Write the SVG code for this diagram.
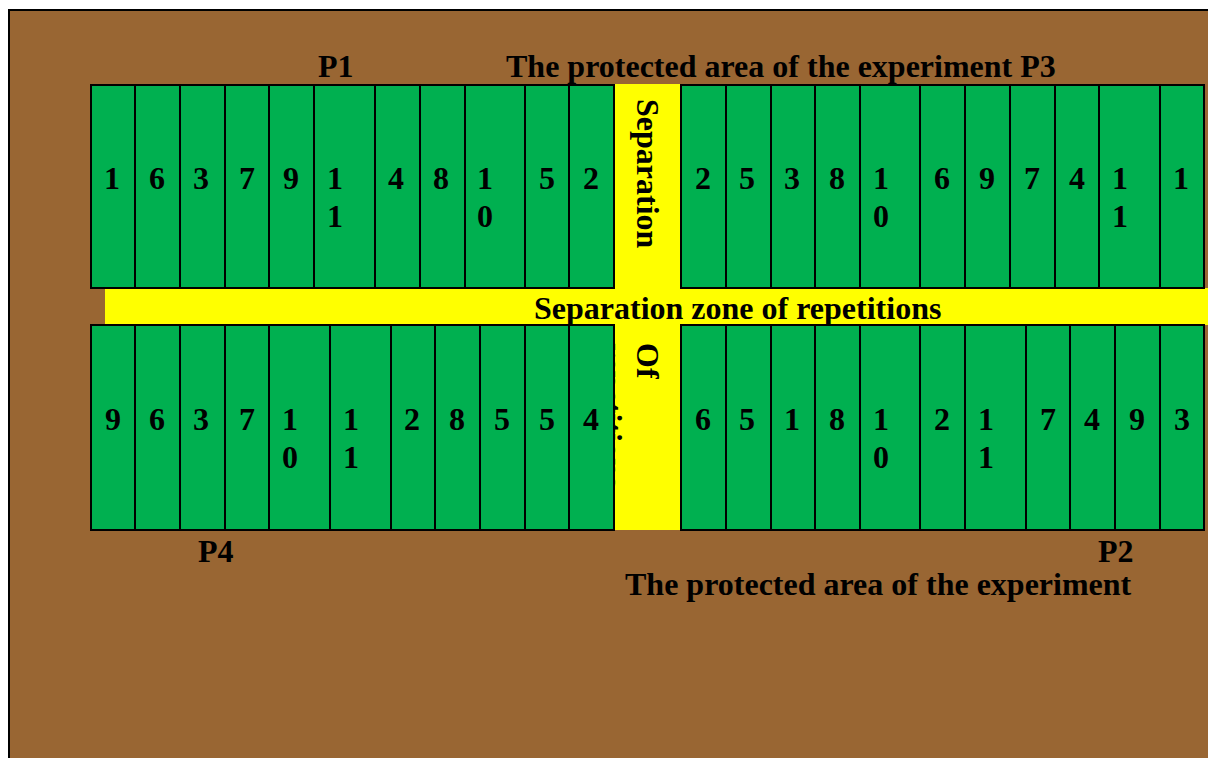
<svg xmlns="http://www.w3.org/2000/svg" width="1208" height="758" viewBox="0 0 1208 758">
<style>
.cell{fill:#00B050;stroke:#000;stroke-width:2}
.t{font-family:"Liberation Serif","Times New Roman",serif;font-weight:bold;font-size:32px;fill:#000}
.zone{fill:#FFFF00}
</style>
<rect x="9" y="10" width="1300" height="800" fill="#996633" stroke="#000" stroke-width="2"/>
<g id="vertical-separation">
<rect class="zone" x="614" y="84" width="67" height="446"/>
<text class="t" transform="translate(637,99) rotate(90)">Separation</text>
<text class="t" transform="translate(637,343) rotate(90)">Of</text>
<text class="t" transform="translate(600,343) rotate(90)">repetitions</text>
</g>
<g id="horizontal-separation">
<rect class="zone" x="105" y="288" width="1110" height="37"/>
<text class="t" x="534" y="319">Separation zone of repetitions</text>
</g>
<g id="cells-top-left">
<g id="tl1"><rect class="cell" x="91" y="85" width="44" height="203"/><text class="t" x="104" y="189">1</text></g>
<g id="tl2"><rect class="cell" x="135" y="85" width="45" height="203"/><text class="t" x="149" y="189">6</text></g>
<g id="tl3"><rect class="cell" x="180" y="85" width="45" height="203"/><text class="t" x="193" y="189">3</text></g>
<g id="tl4"><rect class="cell" x="225" y="85" width="44" height="203"/><text class="t" x="239" y="189">7</text></g>
<g id="tl5"><rect class="cell" x="269" y="85" width="45" height="203"/><text class="t" x="283" y="189">9</text></g>
<g id="tl6"><rect class="cell" x="314" y="85" width="61" height="203"/><text class="t" x="327" y="189">1<tspan x="327" dy="38">1</tspan></text></g>
<g id="tl7"><rect class="cell" x="375" y="85" width="45" height="203"/><text class="t" x="388" y="189">4</text></g>
<g id="tl8"><rect class="cell" x="420" y="85" width="45" height="203"/><text class="t" x="433" y="189">8</text></g>
<g id="tl9"><rect class="cell" x="465" y="85" width="60" height="203"/><text class="t" x="477" y="189">1<tspan x="477" dy="38">0</tspan></text></g>
<g id="tl10"><rect class="cell" x="525" y="85" width="44" height="203"/><text class="t" x="539" y="189">5</text></g>
<g id="tl11"><rect class="cell" x="569" y="85" width="45" height="203"/><text class="t" x="583" y="189">2</text></g>
</g>
<g id="cells-top-right">
<g id="tr1"><rect class="cell" x="681" y="85" width="45" height="203"/><text class="t" x="695" y="189">2</text></g>
<g id="tr2"><rect class="cell" x="726" y="85" width="45" height="203"/><text class="t" x="739" y="189">5</text></g>
<g id="tr3"><rect class="cell" x="771" y="85" width="44" height="203"/><text class="t" x="784" y="189">3</text></g>
<g id="tr4"><rect class="cell" x="815" y="85" width="45" height="203"/><text class="t" x="829" y="189">8</text></g>
<g id="tr5"><rect class="cell" x="860" y="85" width="60" height="203"/><text class="t" x="873" y="189">1<tspan x="873" dy="38">0</tspan></text></g>
<g id="tr6"><rect class="cell" x="920" y="85" width="45" height="203"/><text class="t" x="934" y="189">6</text></g>
<g id="tr7"><rect class="cell" x="965" y="85" width="45" height="203"/><text class="t" x="979" y="189">9</text></g>
<g id="tr8"><rect class="cell" x="1010" y="85" width="45" height="203"/><text class="t" x="1024" y="189">7</text></g>
<g id="tr9"><rect class="cell" x="1055" y="85" width="44" height="203"/><text class="t" x="1069" y="189">4</text></g>
<g id="tr10"><rect class="cell" x="1099" y="85" width="61" height="203"/><text class="t" x="1112" y="189">1<tspan x="1112" dy="38">1</tspan></text></g>
<g id="tr11"><rect class="cell" x="1160" y="85" width="44" height="203"/><text class="t" x="1173" y="189">1</text></g>
</g>
<g id="cells-bottom-left">
<g id="bl1"><rect class="cell" x="91" y="325" width="44" height="205"/><text class="t" x="105" y="430">9</text></g>
<g id="bl2"><rect class="cell" x="135" y="325" width="45" height="205"/><text class="t" x="149" y="430">6</text></g>
<g id="bl3"><rect class="cell" x="180" y="325" width="45" height="205"/><text class="t" x="193" y="430">3</text></g>
<g id="bl4"><rect class="cell" x="225" y="325" width="44" height="205"/><text class="t" x="239" y="430">7</text></g>
<g id="bl5"><rect class="cell" x="269" y="325" width="61" height="205"/><text class="t" x="282" y="430">1<tspan x="282" dy="38">0</tspan></text></g>
<g id="bl6"><rect class="cell" x="330" y="325" width="61" height="205"/><text class="t" x="343" y="430">1<tspan x="343" dy="38">1</tspan></text></g>
<g id="bl7"><rect class="cell" x="391" y="325" width="44" height="205"/><text class="t" x="404" y="430">2</text></g>
<g id="bl8"><rect class="cell" x="435" y="325" width="45" height="205"/><text class="t" x="449" y="430">8</text></g>
<g id="bl9"><rect class="cell" x="480" y="325" width="45" height="205"/><text class="t" x="494" y="430">5</text></g>
<g id="bl10"><rect class="cell" x="525" y="325" width="44" height="205"/><text class="t" x="539" y="430">5</text></g>
<g id="bl11"><rect class="cell" x="569" y="325" width="45" height="205"/><text class="t" x="583" y="430">4</text></g>
</g>
<g id="cells-bottom-right">
<g id="br1"><rect class="cell" x="681" y="325" width="45" height="205"/><text class="t" x="695" y="430">6</text></g>
<g id="br2"><rect class="cell" x="726" y="325" width="45" height="205"/><text class="t" x="739" y="430">5</text></g>
<g id="br3"><rect class="cell" x="771" y="325" width="44" height="205"/><text class="t" x="784" y="430">1</text></g>
<g id="br4"><rect class="cell" x="815" y="325" width="45" height="205"/><text class="t" x="829" y="430">8</text></g>
<g id="br5"><rect class="cell" x="860" y="325" width="60" height="205"/><text class="t" x="873" y="430">1<tspan x="873" dy="38">0</tspan></text></g>
<g id="br6"><rect class="cell" x="920" y="325" width="45" height="205"/><text class="t" x="934" y="430">2</text></g>
<g id="br7"><rect class="cell" x="965" y="325" width="61" height="205"/><text class="t" x="978" y="430">1<tspan x="978" dy="38">1</tspan></text></g>
<g id="br8"><rect class="cell" x="1026" y="325" width="44" height="205"/><text class="t" x="1040" y="430">7</text></g>
<g id="br9"><rect class="cell" x="1070" y="325" width="45" height="205"/><text class="t" x="1084" y="430">4</text></g>
<g id="br10"><rect class="cell" x="1115" y="325" width="45" height="205"/><text class="t" x="1129" y="430">9</text></g>
<g id="br11"><rect class="cell" x="1160" y="325" width="44" height="205"/><text class="t" x="1174" y="430">3</text></g>
</g>
<g id="labels">
<text class="t" x="318" y="77">P1</text>
<text class="t" x="506" y="77">The protected area of the experiment P3</text>
<text class="t" x="198" y="562">P4</text>
<text class="t" x="1098" y="562">P2</text>
<text class="t" x="625" y="595">The protected area of the experiment</text>
</g>
<g id="connectors"/>
</svg>
